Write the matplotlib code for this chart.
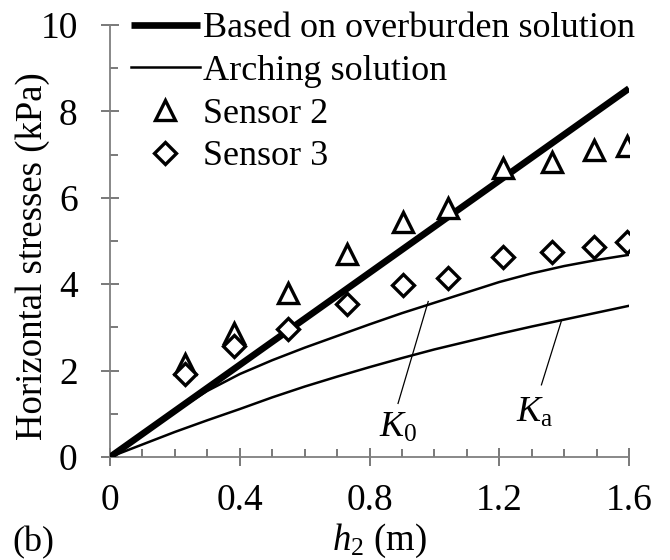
import numpy as np
import matplotlib.pyplot as plt
from matplotlib.ticker import MultipleLocator

plt.rcParams['font.family'] = ['Liberation Serif', 'DejaVu Serif']
plt.rcParams['mathtext.fontset'] = 'custom'
plt.rcParams['mathtext.rm'] = 'Liberation Serif'
plt.rcParams['mathtext.it'] = 'Liberation Serif:italic'

# overburden solution (straight line)
h_over = [0.0, 1.6]
s_over = [0.0, 8.53]

# arching solution, K0 and Ka curves
h_arch = [0.0, 0.1, 0.2, 0.3, 0.4, 0.5, 0.6, 0.7, 0.8, 0.9, 1.0, 1.1, 1.2, 1.3, 1.4, 1.5, 1.6]
s_k0 = [0.0, 0.53, 1.05, 1.53, 1.92, 2.24, 2.53, 2.80, 3.07, 3.33, 3.57, 3.81, 4.05, 4.25, 4.42, 4.56, 4.68]
s_ka = [0.0, 0.29, 0.58, 0.85, 1.11, 1.38, 1.63, 1.86, 2.08, 2.29, 2.49, 2.67, 2.85, 3.02, 3.18, 3.34, 3.50]

# measured data
h_sens = [0.232, 0.381, 0.550, 0.730, 0.904, 1.043, 1.212, 1.364, 1.493, 1.593]
sensor2 = [2.15, 2.88, 3.80, 4.71, 5.45, 5.76, 6.68, 6.84, 7.11, 7.21]
sensor3 = [1.91, 2.58, 2.96, 3.54, 3.98, 4.14, 4.64, 4.74, 4.87, 4.97]

xticks = [0, 0.4, 0.8, 1.2, 1.6]
xticklabels = ['0', '0.4', '0.8', '1.2', '1.6']

fig = plt.figure(figsize=(6.7, 5.6), dpi=100)
ax = fig.add_axes([110 / 670, 1 - 457 / 560, 519 / 670, 432 / 560])

ax.plot(h_over, s_over, color='black', lw=4.8, solid_capstyle='butt',
        label='Based on overburden solution', zorder=3)
ax.plot(h_arch, s_k0, color='black', lw=1.8, label='Arching solution', zorder=2)
ax.plot(h_arch, s_ka, color='black', lw=1.8, zorder=2)
ax.plot(h_sens, sensor2, ls='none', marker='^', ms=15, mfc='white', mec='black',
        mew=2.4, label='Sensor 2', zorder=4)
ax.plot(h_sens, sensor3, ls='none', marker='D', ms=11, mfc='white', mec='black',
        mew=2.4, label='Sensor 3', zorder=5)

# curve labels with leader lines
ax.plot([0.981, 0.888], [3.60, 1.24], color='black', lw=0.9)
ax.plot([1.392, 1.330], [3.16, 1.67], color='black', lw=0.9)
ax.text(0.888, 0.67, r'$K_{\mathrm{0}}$', fontsize=26, ha='center', va='center')
ax.text(1.31, 1.02, r'$K_{\mathrm{a}}$', fontsize=26, ha='center', va='center')

ax.set_xlim(0, 1.6)
ax.set_ylim(0, 10)
ax.set_xticks(xticks)
ax.set_xticklabels(xticklabels)
ax.xaxis.set_minor_locator(MultipleLocator(0.1))
ax.yaxis.set_major_locator(MultipleLocator(2))
ax.yaxis.set_minor_locator(MultipleLocator(1))

for s in ['top', 'right']:
    ax.spines[s].set_visible(False)
for s in ['left', 'bottom']:
    ax.spines[s].set_color('#7f7f7f')
    ax.spines[s].set_linewidth(1.3)

ax.tick_params(which='major', direction='inout', length=13.5, width=1.1,
               color='#555555', labelsize=27)
ax.tick_params(axis='x', which='major', pad=12)
ax.tick_params(axis='y', which='major', pad=16.5)
ax.tick_params(which='minor', direction='in', length=5.8, width=1.1, color='#555555')

ax.set_ylabel('Horizontal stresses (kPa)', fontsize=26.5)
ax.yaxis.set_label_coords(-0.115, 0.465)
ax.set_xlabel(r'$h_{\mathrm{2}}$ (m)', fontsize=26.5)
ax.xaxis.set_label_coords(0.52, -0.150)

ax.legend(loc='upper left', bbox_to_anchor=(131 / 670, 1 - 12 / 560),
          bbox_transform=fig.transFigure, frameon=False, fontsize=26,
          handlelength=1.9, handletextpad=0.1, labelspacing=0.26,
          borderpad=0, borderaxespad=0)

fig.text(12 / 670, 1 - 543 / 560, '(b)', fontsize=26, va='center', ha='left')

fig.savefig('out.png', dpi=100)
